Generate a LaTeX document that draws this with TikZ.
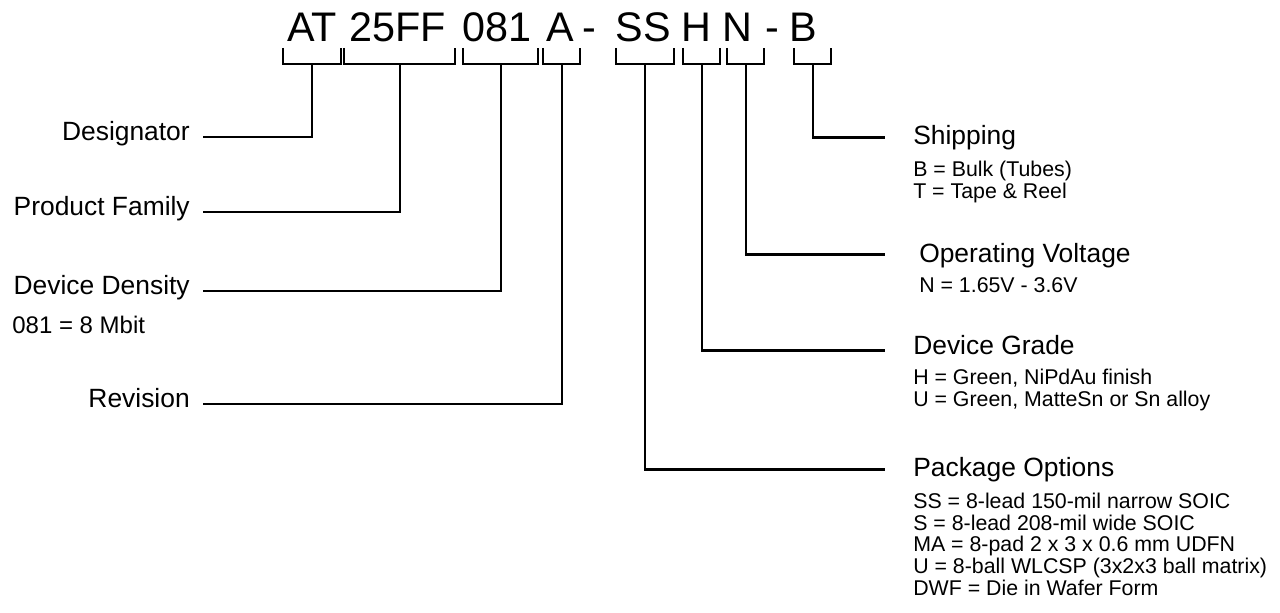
\documentclass[tikz,border=0pt]{standalone}
\usepackage{fontspec}
\setmainfont{Liberation Sans}
\usetikzlibrary{positioning}
\newcommand{\firstline}{\rule{0pt}{11.4pt}}

\begin{document}
\begin{tikzpicture}[
  x=0.75pt, y=-0.75pt,
  part/.style={inner sep=0pt, anchor=base, font=\fontsize{31}{31}\selectfont},
  brk/.style={line width=2.2pt},
  lead/.style={line width=2.2pt},
  title/.style={inner sep=0pt, font=\fontsize{19.8}{21}\selectfont},
  info/.style={inner sep=0pt, align=left, font=\fontsize{16}{16.3}\selectfont}
]
  \useasboundingbox (0,0) rectangle (1280,613);

  % 1. Ordering code fields (top row)
  \node[part] (pAT)   at (312,42) {AT};
  \node[part] (pFam)  at (398,42) {25FF};
  \node[part] (pDen)  at (497,42) {081};
  \node[part] (pRev)  at (560,42) {A};
  \node[part] (pDa)   at (589,42) {-};
  \node[part] (pPkg)  at (643,42) {SS};
  \node[part] (pGrd)  at (696,42) {H};
  \node[part] (pVolt) at (737,42) {N};
  \node[part] (pDb)   at (772,42) {-};
  \node[part] (pShip) at (803,42) {B};

  % 2. Brackets under the fields, with the stem point of each
  \draw[brk] (283,48) |- (341,64) -- (341,48);
  \draw[brk] (344,48) |- (455,64) -- (455,48);
  \draw[brk] (463,48) |- (538,64) -- (538,48);
  \draw[brk] (543,48) |- (580,64) -- (580,48);
  \draw[brk] (616,48) |- (674,64) -- (674,48);
  \draw[brk] (683,48) |- (720,64) -- (720,48);
  \draw[brk] (727,48) |- (764,64) -- (764,48);
  \draw[brk] (794,48) |- (831,64) -- (831,48);
  \coordinate (kAT)   at (312,64);
  \coordinate (kFam)  at (400,64);
  \coordinate (kDen)  at (501,64);
  \coordinate (kRev)  at (562,64);
  \coordinate (kPkg)  at (645,64);
  \coordinate (kGrd)  at (702,64);
  \coordinate (kVolt) at (746,64);
  \coordinate (kShip) at (813,64);

  % 3. Left labels
  \node[title, anchor=mid east] (desig)   at (190,137) {Designator};
  \node[title, anchor=mid east] (family)  at (190,212) {Product Family};
  \node[title, anchor=mid east] (density) at (190,291) {Device Density};
  \node[info, font=\fontsize{18}{18}\selectfont, below=16pt of density.base west,
    anchor=north west, xshift=-1pt] (densinfo) {\strut 081 = 8 Mbit};
  \node[title, anchor=mid east] (rev)     at (190,404) {Revision};

  % 4. Right labels with their options (\firstline fixes the first baseline)
  \node[title, anchor=base west] (ship) at (913,145) {Shipping};
  \node[info, below=11.85pt of ship.base west, anchor=north west] (shipinfo)
    {\firstline B = Bulk (Tubes)\\T = Tape \& Reel};
  \node[title, anchor=base west] (volt) at (919,262) {Operating Voltage};
  \node[info, below=11.1pt of volt.base west, anchor=north west] (voltinfo)
    {\firstline N = 1.65V - 3.6V};
  \node[title, anchor=base west] (grade) at (913,354) {Device Grade};
  \node[info, below=11.1pt of grade.base west, anchor=north west] (gradeinfo)
    {\firstline H = Green, NiPdAu finish\\U = Green, MatteSn or Sn alloy};
  \node[title, anchor=base west] (pkg) at (913,476) {Package Options};
  \node[info, below=12.6pt of pkg.base west, anchor=north west] (pkginfo)
    {\firstline SS = 8-lead 150-mil narrow SOIC\\S = 8-lead 208-mil wide SOIC\\MA = 8-pad 2 x 3 x 0.6 mm UDFN\\U = 8-ball WLCSP (3x2x3 ball matrix)\\DWF = Die in Wafer Form};

  % 5. Leader lines from the brackets to the labels
  \draw[lead] (kAT)  |- ([xshift=9.75pt]desig.mid east);
  \draw[lead] (kFam) |- ([xshift=9.75pt]family.mid east);
  \draw[lead] (kDen) |- ([xshift=9.75pt]density.mid east);
  \draw[lead] (kRev) |- ([xshift=9.75pt]rev.mid east);
  \draw[lead] (kShip) |- ([xshift=-21pt, yshift=3pt]ship.mid west);
  \draw[lead] (kVolt) |- ([xshift=-25.5pt, yshift=3pt]volt.mid west);
  \draw[lead] (kGrd)  |- ([xshift=-21pt]grade.mid west);
  \draw[lead] (kPkg)  |- ([xshift=-21pt, yshift=2.25pt]pkg.mid west);

\end{tikzpicture}
\end{document}
